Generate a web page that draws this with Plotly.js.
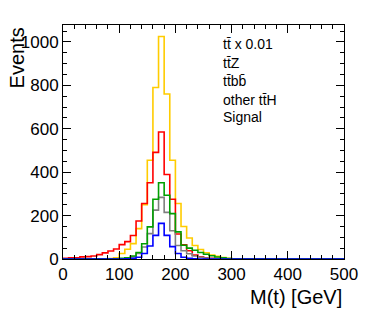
<!DOCTYPE html>
<html>
<head>
<meta charset="utf-8">
<script src="https://cdn.plot.ly/plotly-3.0.1.min.js"></script>
<style>html,body{margin:0;padding:0;background:#fff;}#chart{width:374px;height:316px;}</style>
</head>
<body>
<div id="chart"></div>
<script>
// Bin edges of the histogram (GeV), 10 GeV bins from 0 to 500
var binEdges = [0,10,20,30,40,50,60,70,80,90,100,110,120,130,140,150,160,170,180,190,200,
  210,220,230,240,250,260,270,280,290,300,310,320,330,340,350,360,370,380,390,400,
  410,420,430,440,450,460,470,480,490,500];

// Bin contents (50 bins each)
var ttbar = [0,0,0,0,0,0,0,0,2,6, 25,45,71,140,250,455,790,1025,760,455, 256,150,97,62,44,29,18,12,7,3, 0,0,0,0,0,0,0,0,0,0, 0,0,0,0,0,0,0,0,0,0];
var ttZ   = [3,5,6,10,11,14,20,28,37,46, 66,80,108,175,256,351,491,585,389,275, 115,65,38,18,10,6,3,2,1,0, 0,0,0,0,0,0,0,0,0,0, 0,0,0,0,0,0,0,0,0,0];
var ttbb  = [0,0,0,0,0,0,0,0,0,1, 3,6,14,30,70,148,275,351,294,209, 125,63,50,40,30,22,15,9,5,2, 0,0,0,0,0,0,0,0,0,0, 0,0,0,0,0,0,0,0,0,0];
var otherttH = [0,0,0,0,0,0,0,0,0,0, 1,4,10,25,55,117,225,284,215,130, 62,38,24,14,8,4,2,1,0,0, 0,0,0,0,0,0,0,0,0,0, 0,0,0,0,0,0,0,0,0,0];
var signal = [0,0,0,0,0,0,0,0,0,0, 0,1,3,8,25,60,109,164,109,57, 25,8,3,1,0,0,0,0,0,0, 0,0,0,0,0,0,0,0,0,0, 0,0,0,0,0,0,0,0,0,0];

var legendLabels = ["tt\u0304 x 0.01", "tt\u0304Z", "tt\u0304bb\u0304", "other tt\u0304H", "Signal"];
var xTitle = "M(t) [GeV]";
var yTitle = "Events";

function stepTrace(vals, color) {
  // step outline: one point per bin low edge, repeat last value at upper edge
  var ys = vals.slice();
  ys.push(vals[vals.length - 1]);
  return {
    x: binEdges, y: ys, type: 'scatter', mode: 'lines',
    line: {shape: 'hv', color: color, width: 1.6},
    hoverinfo: 'skip', showlegend: false
  };
}

var traces = [
  stepTrace(ttbar, '#ffcc00'),
  stepTrace(ttZ, '#ff0000'),
  stepTrace(otherttH, '#808080'),
  stepTrace(ttbb, '#00a000'),
  stepTrace(signal, '#0000ff')
];

var FONT = 'Liberation Sans, Arial, Helvetica, sans-serif';
var legendY = [0.918, 0.836, 0.760, 0.680, 0.608];
var annotations = legendLabels.map(function (t, i) {
  return {text: t, xref: 'paper', yref: 'paper', x: 0.567, y: legendY[i],
    xanchor: 'left', yanchor: 'middle', showarrow: false, borderpad: 0,
    font: {family: FONT, size: 14, color: '#000'}};
});
annotations.push({text: xTitle, xref: 'paper', yref: 'paper', x: 1.0, y: -0.162,
  xanchor: 'right', yanchor: 'middle', showarrow: false,
  font: {family: FONT, size: 20, color: '#000'}});
annotations.push({text: yTitle, xref: 'paper', yref: 'paper', x: -0.164, y: 1.0,
  xanchor: 'center', yanchor: 'top', textangle: -90, showarrow: false,
  font: {family: FONT, size: 20, color: '#000'}});

var layout = {
  width: 374, height: 316,
  margin: {l: 63, r: 30, t: 25, b: 57, pad: 0},
  paper_bgcolor: '#fff', plot_bgcolor: '#fff',
  showlegend: false,
  font: {family: FONT, size: 17, color: '#000'},
  xaxis: {
    range: [0, 500], dtick: 100, tick0: 0,
    ticks: 'inside', ticklen: 8, tickwidth: 1, tickcolor: '#000',
    minor: {dtick: 20, ticks: 'inside', ticklen: 4, tickcolor: '#000', tickwidth: 1},
    showline: true, linecolor: '#000', linewidth: 1, mirror: 'allticks',
    showgrid: false, zeroline: false,
    tickfont: {family: FONT, size: 17, color: '#000'}
  },
  yaxis: {
    range: [0, 1078], dtick: 200, tick0: 0,
    ticks: 'inside', ticklen: 8, tickwidth: 1, tickcolor: '#000',
    minor: {dtick: 50, ticks: 'inside', ticklen: 4, tickcolor: '#000', tickwidth: 1},
    showline: true, linecolor: '#000', linewidth: 1, mirror: 'allticks',
    showgrid: false, zeroline: false,
    tickfont: {family: FONT, size: 17, color: '#000'}
  },
  annotations: annotations
};

Plotly.newPlot('chart', traces, layout, {displayModeBar: false, staticPlot: true});
</script>
</body>
</html>
